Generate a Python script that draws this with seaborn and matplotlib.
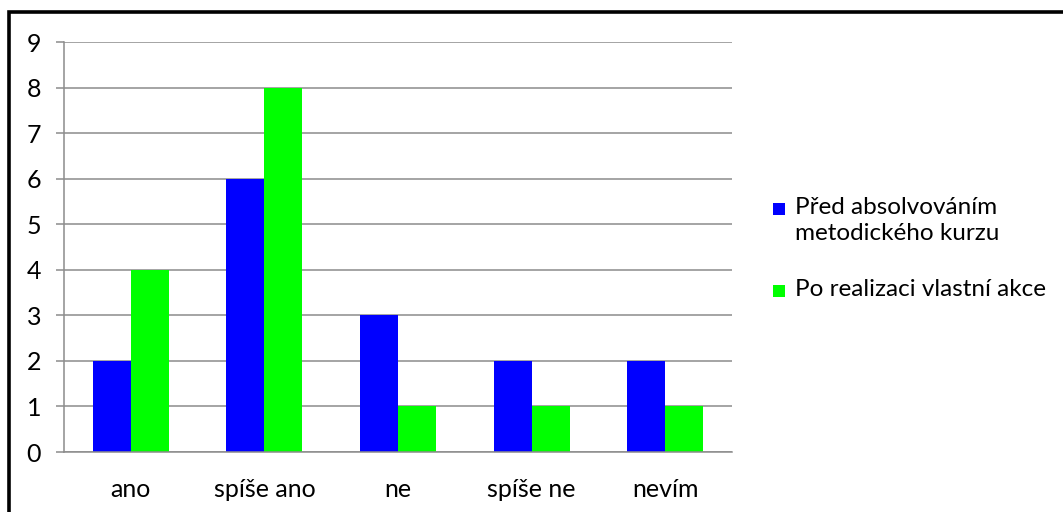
import pandas as pd
import matplotlib.pyplot as plt
import matplotlib.patches as mpatches
import seaborn as sns

# --- Dati ---
categories = ['ano', 'spíše ano', 'ne', 'spíše ne', 'nevím']
series_names = ['Před absolvováním\nmetodického kurzu', 'Po realizaci vlastní akce']
before_values = [2, 6, 3, 2, 2]
after_values = [4, 8, 1, 1, 1]
colors = ['#0000FF', '#00FF00']

df = pd.DataFrame({
    'kategorie': categories * 2,
    'serie': [series_names[0]] * len(categories) + [series_names[1]] * len(categories),
    'pocet': before_values + after_values,
})

sns.set_theme(style='white')
plt.rcParams['font.family'] = ['Lato', 'DejaVu Sans']

W, H = 1063, 512
fig = plt.figure(figsize=(W / 100, H / 100), dpi=100)
ax = fig.add_axes([64 / W, 1 - 452 / H, 668 / W, 410 / H])

sns.barplot(data=df, x='kategorie', y='pocet', hue='serie', order=categories,
            hue_order=series_names, palette=colors, width=0.57, gap=0,
            saturation=1, linewidth=0, ax=ax, legend=False)

grid_col = '#8c8c8c'
fs = 18
ax.set_ylim(0, 9)
ax.set_xlim(-0.5, len(categories) - 0.5)
ax.set_yticks(range(0, 10))
ax.yaxis.grid(True, color=grid_col, linewidth=1.1)
ax.set_axisbelow(True)
for side in ['top', 'right']:
    ax.spines[side].set_visible(False)
for side in ['left', 'bottom']:
    ax.spines[side].set_color(grid_col)
    ax.spines[side].set_linewidth(1.1)

ax.set_xticks([i - 0.5 for i in range(len(categories) + 1)], minor=True)
ax.tick_params(axis='x', which='major', length=0, pad=19, labelsize=fs, labelcolor='black')
ax.tick_params(axis='x', which='minor', length=6, width=1.1, color=grid_col, direction='out')
ax.tick_params(axis='y', length=5.5, width=1.1, color=grid_col, direction='out', pad=11,
               labelsize=fs, labelcolor='black', left=True)
ax.set_xlabel('')
ax.set_ylabel('')

# legenda (disegnata a mano per allineare il quadratino alla prima riga)
legend_rows = [209, 291]
for name, c, yc in zip(series_names, colors, legend_rows):
    fig.add_artist(mpatches.Rectangle((773 / W, 1 - (yc + 6) / H), 12 / W, 12 / H,
                                      transform=fig.transFigure, color=c, lw=0))
    fig.text(795 / W, 1 - (yc - 12) / H, name, fontsize=17.5, va='top', ha='left',
             linespacing=1.3, color='black')

# cornice
top = 1 - 12 / H
fig.add_artist(mpatches.Rectangle((9 / W, -0.2), 1.2, top + 0.2, transform=fig.transFigure,
                                  fill=False, edgecolor='black', linewidth=2.6))

fig.savefig('out.png', dpi=100)
